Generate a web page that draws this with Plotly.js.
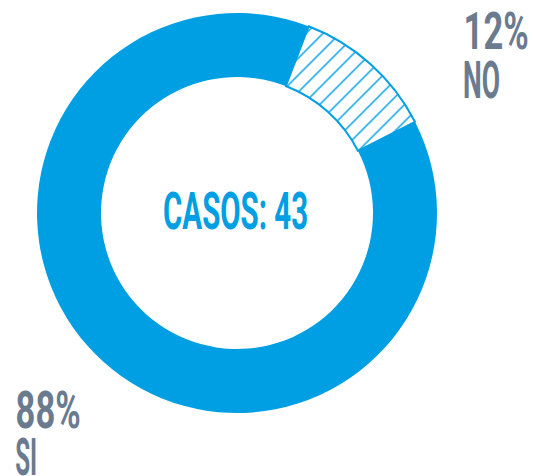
<!DOCTYPE html>
<html>
<head>
<meta charset="utf-8">
<script src="https://cdn.plot.ly/plotly-3.0.1.min.js"></script>
<style>html,body{margin:0;padding:0;background:#fff;}#chart{width:533px;height:476px;}</style>
</head>
<body>
<div id="chart"></div>
<script>
const labels = ["NO", "SI"];
const values = [5, 38];
const percentText = ["12%", "88%"];
const centerText = "CASOS: 43";

const BLUE = "#009FE3";
const GRAY = "#6B7B8F";
const FONT = "Roboto, 'Liberation Sans', sans-serif";

const trace = {
  type: "pie",
  labels: labels,
  values: values,
  sort: false,
  direction: "clockwise",
  rotation: 21,
  hole: 0.68,
  textinfo: "none",
  hoverinfo: "label+percent",
  showlegend: false,
  domain: {x: [37/533, 437/533], y: [63/476, 463/476]},
  marker: {
    colors: ["#ffffff", BLUE],
    line: {color: BLUE, width: [2, 0]},
    pattern: {shape: ["/", ""], fgcolor: BLUE, bgcolor: "#ffffff", size: 12, solidity: 0.12}
  }
};

// annotations: [text, x(px), y(px from top), color, targetWidth]
const ann = [
  [percentText[0], 495.5, 32, GRAY, 65],
  [labels[0], 481.5, 80, GRAY, 37],
  [percentText[1], 47.5, 410, GRAY, 65],
  [labels[1], 26, 457, GRAY, 22],
  [centerText, 235.5, 211, BLUE, 145]
];

const layout = {
  width: 533, height: 476,
  margin: {l: 0, r: 0, t: 0, b: 0},
  paper_bgcolor: "#ffffff",
  plot_bgcolor: "#ffffff",
  annotations: ann.map(a => ({
    text: "<b>" + a[0] + "</b>", x: a[1]/533, y: 1 - a[2]/476, xref: "paper", yref: "paper",
    xanchor: "center", yanchor: "middle", showarrow: false,
    font: {family: FONT, size: 51, color: a[3]}
  }))
};

function squeeze() {
  const texts = document.querySelectorAll("#chart .annotation-text");
  texts.forEach((t, i) => {
    if (ann[i]) {
      t.setAttribute("textLength", ann[i][4]);
      t.setAttribute("lengthAdjust", "spacingAndGlyphs");
    }
  });
}

Plotly.newPlot("chart", [trace], layout, {displayModeBar: false, staticPlot: true}).then(gd => {
  squeeze();
  gd.on("plotly_afterplot", squeeze);
});
</script>
</body>
</html>
